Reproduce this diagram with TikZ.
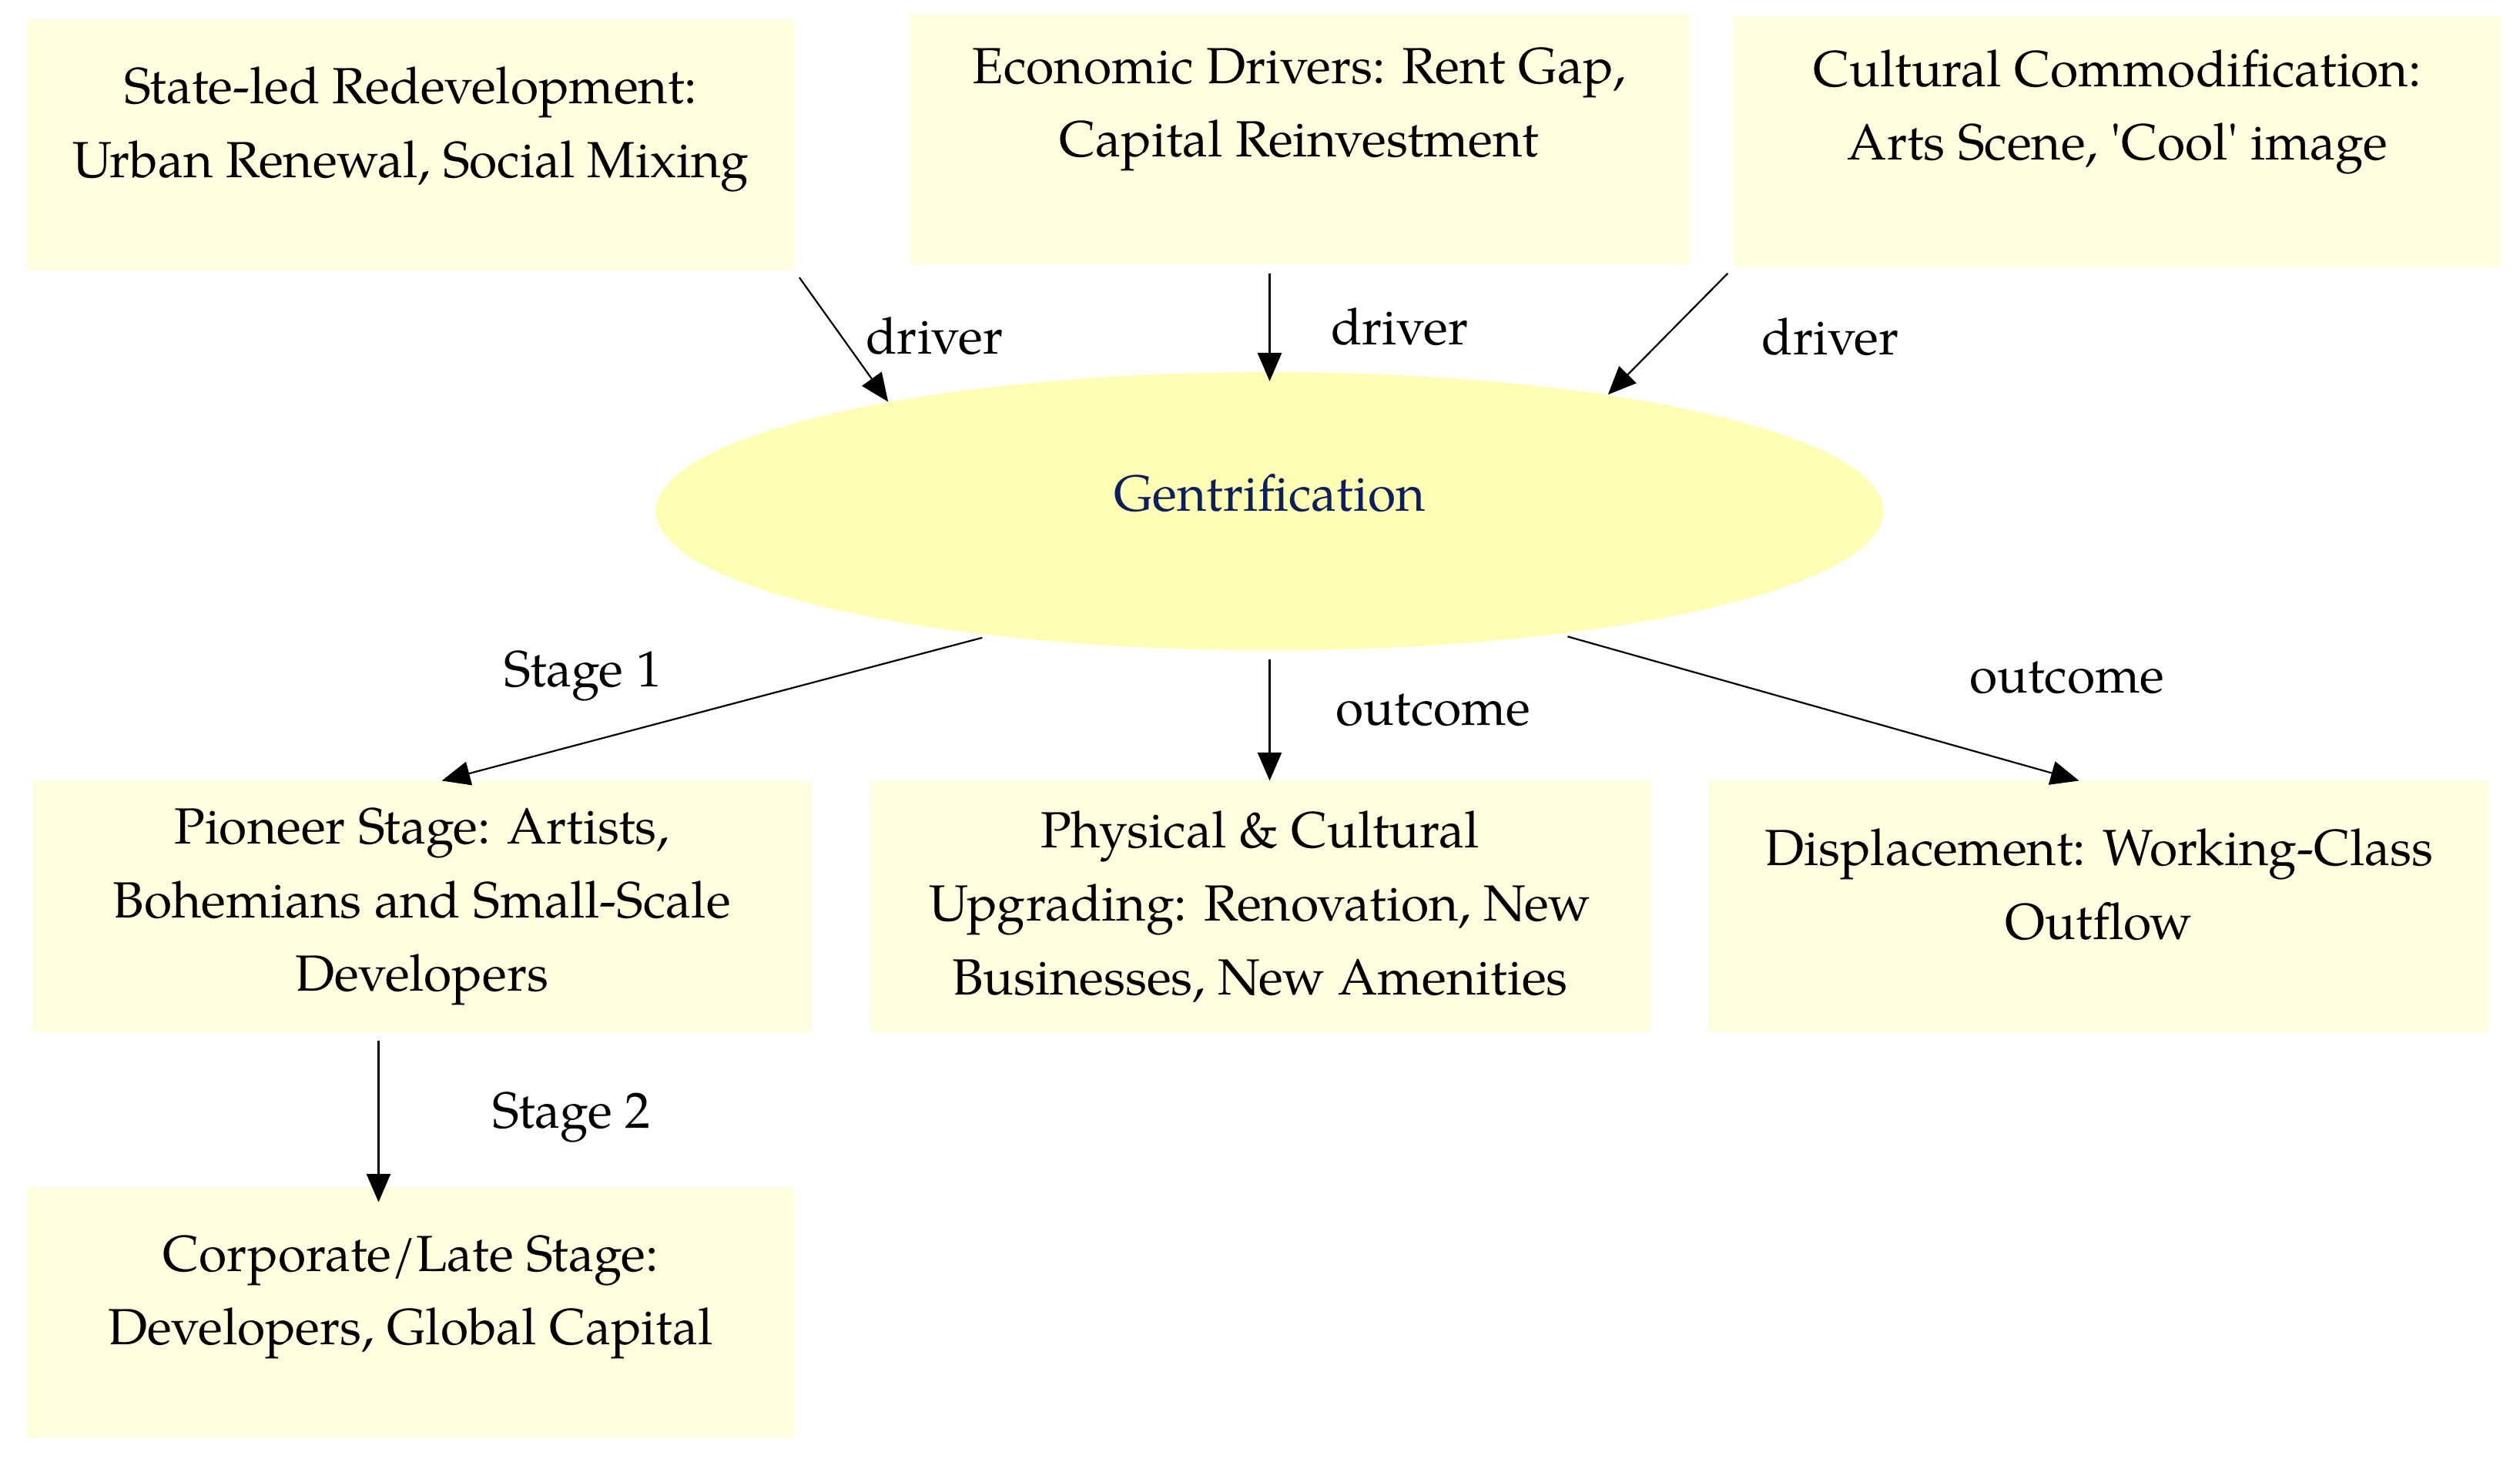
\documentclass[tikz,border=0pt]{standalone}
\usepackage{fontspec}
\setmainfont{TeX Gyre Pagella}
\usetikzlibrary{arrows.meta,shapes.geometric}
\definecolor{boxfill}{HTML}{FFFFE0}
\definecolor{hubfill}{HTML}{FFFFB3}
\definecolor{hubtext}{HTML}{0B1F5E}

\begin{document}
\begin{tikzpicture}[x=0.02cm, y=-0.02cm, > = {Triangle[length=10pt,width=8.5pt]},
    link/.style = {->, line width=0.6pt, shorten <=3pt},
    factor/.style = {rectangle, fill=boxfill, minimum width=9.54cm, minimum height=3.12cm, inner sep=0pt, align=center, font=\fontsize{18}{26}\selectfont},
    hub/.style = {ellipse, fill=hubfill, minimum width=15.28cm, minimum height=3.46cm, inner sep=0pt, text=hubtext, text height=12.5pt, text depth=12.5pt, font=\fontsize{18}{26}\selectfont},
    tag/.style = {inner sep=0pt, font=\fontsize{18}{26}\selectfont}]

    \useasboundingbox (0,0) rectangle (1568,913.4);

    % drivers
    \node[factor] (state) at (255.5,90) {State-led Redevelopment:\\ Urban Renewal, Social Mixing\\[-10pt] \mbox{}};
    \node[factor, minimum width=9.7cm] (econ) at (808.5,86.5) {Economic Drivers: Rent Gap,\\ Capital Reinvestment\\ \mbox{}};
    \node[factor] (cult) at (1317.5,88) {Cultural Commodification:\\ Arts Scene, \textquotesingle Cool\textquotesingle{} image\\ \mbox{}};

    % centre
    \node[hub] (gent) at (790,318) {Gentrification};

    % stages and outcomes
    \node[factor, minimum width=9.7cm] (pioneer) at (262.5,564) {Pioneer Stage: Artists,\\ Bohemians and Small-Scale\\ Developers};
    \node[factor, minimum width=9.72cm] (phys) at (784,564) {Physical \& Cultural\\ Upgrading: Renovation, New\\ Businesses, New Amenities};
    \node[factor, minimum width=9.72cm] (displ) at (1306,564) {Displacement: Working-Class\\ Outflow\\[-10pt] \mbox{}};
    \node[factor] (corp) at (255.5,816.5) {Corporate/Late Stage:\\ Developers, Global Capital\\[-10pt] \mbox{}};

    % links
    \draw[link] (state.south east) -- (gent.164) node[tag, midway, right, xshift=8.5pt] {driver};
    \draw[link, shorten >=-3.4pt] (gent.north |- econ.south) -- (gent.north) node[tag, midway, right, xshift=21.5pt, yshift=-3pt] {driver};
    \draw[link] (cult.south west) -- (gent.19) node[tag, midway, right, xshift=32pt, yshift=-2pt] {driver};

    \draw[link] (gent.204) -- (pioneer.81) node[tag, midway, left, xshift=-19pt, yshift=11.3pt] {Stage 1};
    \draw[link] (gent.south) -- (gent.south |- phys.north) node[tag, midway, right, xshift=23.2pt, yshift=2pt] {outcome};
    \draw[link] (gent.-23) -- (displ.99) node[tag, midway, right, xshift=53pt, yshift=10.5pt] {outcome};
    \draw[link, shorten >=-5.5pt] (pioneer.-109) -- (pioneer.-109 |- corp.north) node[tag, midway, right, xshift=40.2pt, yshift=-2.7pt] {Stage 2};

\end{tikzpicture}
\end{document}
